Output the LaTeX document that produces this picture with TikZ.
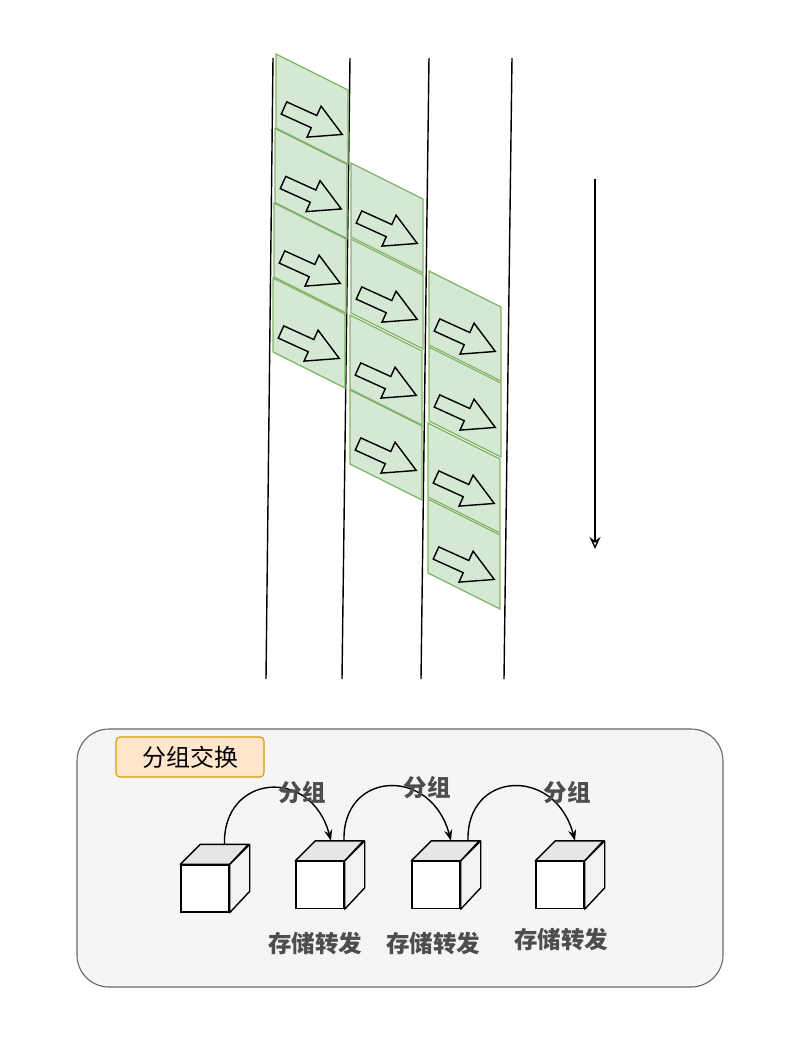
\documentclass[tikz,border=0pt]{standalone}
\usepackage{fontspec}
\newfontfamily\cjk{Noto Sans CJK SC}
\usetikzlibrary{arrows.meta}
\definecolor{pktFill}{HTML}{D5E8D4}
\definecolor{pktDraw}{HTML}{82B366}
\definecolor{frameFill}{HTML}{F5F5F5}
\definecolor{frameDraw}{HTML}{666666}
\definecolor{tagFill}{HTML}{FFE6CC}
\definecolor{tagDraw}{HTML}{D79B00}
\definecolor{labelGray}{HTML}{4D4D4D}
\definecolor{cubeTop}{HTML}{E6E6E6}
\definecolor{cubeSide}{HTML}{F2F2F2}
\begin{document}
\begin{tikzpicture}[
        x=1pt, y=-1pt,
        wire/.style={line width=1.4pt},
        packet/.style={fill=pktFill, draw=pktDraw, line width=1.3pt},
        blockArrow/.style={draw=black, line width=1.4pt, line join=miter},
        frameNode/.style={rectangle, rounded corners=32pt, fill=frameFill, draw=frameDraw, line width=1.1pt, minimum width=646pt, minimum height=258pt},
        tagNode/.style={rectangle, rounded corners=4pt, fill=tagFill, draw=tagDraw, line width=1.1pt, minimum width=148pt, minimum height=40pt, font=\cjk\fontsize{24}{28}\selectfont},
        cubeNode/.style={rectangle, draw, fill=white, line width=1.4pt, minimum width=48pt, minimum height=47pt, inner sep=0pt},
        cubeFace/.style={draw, line width=1.4pt, line join=round},
        hopLabel/.style={font=\cjk\bfseries\fontsize{23.5}{27}\selectfont, text=labelGray},
        hop/.style={line width=1.4pt, -{Stealth[length=11pt, width=8pt]}}
    ]
        \useasboundingbox (0,0) rectangle (796,1037);

        % Links
        \foreach \xt/\xb in {273/266, 350/342, 429/421, 512/504}
            \draw[wire] (\xt,58) -- (\xb,679);

        % Packets on the links
        \foreach \x/\y in {276/54, 275/128.5, 274/203, 273/278,
                           351/163, 351/239, 350/315, 350/390,
                           429/271, 429/347, 428/423, 428/499} {
            \draw[packet] (\x,\y) -- ++(72,36) -- ++(0,74) -- ++(-72,-36) -- cycle;
            \draw[blockArrow, shift={(\x+8,\y+54)}, rotate=-24.4]
                (0,-6.7) -- (33,-6.7) -- (33,-17) -- (64,0) -- (33,17) -- (33,6.7) -- (0,6.7) -- cycle;
        }

        % Time axis
        \coordinate (timeTop) at (595,179);
        \coordinate (timeEnd) at (595,549);
        \draw[wire, -{Stealth[open, length=12pt, width=11pt, inset=4pt]}] (timeTop) -- (timeEnd);

        % Packet switching frame
        \node[frameNode] (frame) at (400,858) {};
        \node[tagNode] (tag) at (190,757) {分组交换};

        % Cubes
        \foreach \i/\x/\y in {1/205/888.5, 2/320/885, 3/436/885, 4/560/885} {
            \node[cubeNode] (cube\i) at (\x,\y) {};
            \draw[cubeFace, fill=cubeTop] (cube\i.north west) -- ++(20,-20) -- ++(48,0) -- (cube\i.north east) -- cycle;
            \draw[cubeFace, fill=cubeSide] (cube\i.north east) -- ++(20,-20) -- ++(0,47) -- (cube\i.south east) -- cycle;
        }

        % Hop ends on the cube tops
        \coordinate (out1) at ([shift={(19.5,-20)}]cube1.north);
        \coordinate (out2) at ([shift={(24,-20)}]cube2.north);
        \coordinate (out3) at ([shift={(32,-20)}]cube3.north);
        \coordinate (in2) at ([shift={(11,-20)}]cube2.north);
        \coordinate (in3) at ([shift={(15,-20)}]cube3.north);
        \coordinate (in4) at ([shift={(15,-20)}]cube4.north);

        % Hops
        \foreach \a/\b in {1/2, 2/3, 3/4}
            \draw[hop] (out\a) .. controls +(-2,-70) and +(-20,-75) .. (in\b);

        % Labels
        \node[hopLabel] (pkt1) at (302,793) {分组};
        \node[hopLabel] (pkt2) at (427,788) {分组};
        \node[hopLabel] (pkt3) at (567,793) {分组};
        \node[hopLabel] (fwd2) at (315,944) {存储转发};
        \node[hopLabel] (fwd3) at (433,944) {存储转发};
        \node[hopLabel] (fwd4) at (561,940) {存储转发};
    \end{tikzpicture}
\end{document}
